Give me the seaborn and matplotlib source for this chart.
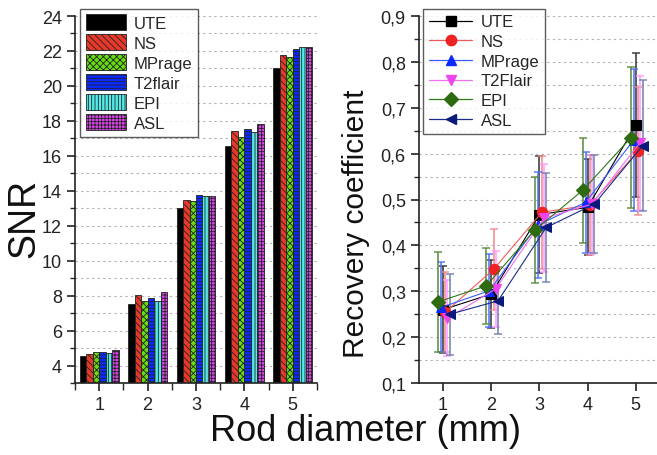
import numpy as np
import pandas as pd
import matplotlib
matplotlib.use("Agg")
import matplotlib.pyplot as plt
import matplotlib.patches as mpatches
from matplotlib.lines import Line2D
from matplotlib.ticker import MultipleLocator, FuncFormatter
import seaborn as sns

# ---------------- data ----------------
diameters = [1, 2, 3, 4, 5]
sequences = ["UTE", "NS", "MPrage", "T2flair", "EPI", "ASL"]

snr_ute = [4.53, 7.52, 13.04, 16.55, 21.00]
snr_ns = [4.67, 8.06, 13.50, 17.43, 21.77]
snr_mprage = [4.80, 7.72, 13.43, 17.06, 21.66]
snr_t2flair = [4.80, 7.85, 13.75, 17.52, 22.10]
snr_epi = [4.73, 7.72, 13.70, 17.35, 22.25]
snr_asl = [4.86, 8.21, 13.72, 17.81, 22.25]

rc_names = ["UTE", "NS", "MPrage", "T2Flair", "EPI", "ASL"]
rc_ute = [0.260, 0.294, 0.467, 0.483, 0.662]
rc_ns = [0.255, 0.348, 0.472, 0.488, 0.606]
rc_mprage = [0.265, 0.301, 0.444, 0.494, 0.630]
rc_t2flair = [0.241, 0.305, 0.459, 0.490, 0.624]
rc_epi = [0.277, 0.312, 0.433, 0.520, 0.635]
rc_asl = [0.250, 0.279, 0.439, 0.490, 0.617]

err_ute = [0.095, 0.074, 0.128, 0.105, 0.157]
err_ns = [0.087, 0.088, 0.123, 0.110, 0.140]
err_mprage = [0.098, 0.080, 0.116, 0.110, 0.154]
err_t2flair = [0.083, 0.083, 0.118, 0.108, 0.146]
err_epi = [0.109, 0.083, 0.116, 0.115, 0.154]
err_asl = [0.088, 0.073, 0.119, 0.107, 0.143]

# ---------------- styles ----------------
sns.set_theme(style="ticks")
plt.rcParams["font.family"] = ["Liberation Sans", "DejaVu Sans"]
plt.rcParams["hatch.linewidth"] = 0.6

bar_colors = ["#000000", "#e8382a", "#66dd11", "#0a2aff", "#55eaea", "#dd44ee"]
bar_hatches = ["", "\\\\\\\\\\", "xxxxx", "-----", "|||||", "+++++"]

line_colors = ["#000000", "#f05a5a", "#3a5cff", "#f070f0", "#2e7a16", "#1c2a8a"]
marker_colors = ["#000000", "#ee2222", "#0a28ff", "#ee44ee", "#2e6b10", "#0a1a7a"]
err_colors = ["#333333", "#f08a8a", "#5070ff", "#ff99ff", "#5a8a3a", "#7080b0"]
markers = ["s", "o", "^", "v", "D", "<"]
offsets = [0.0, 0.05, -0.04, 0.09, -0.10, 0.14]

W, H = 657, 456
fig = plt.figure(figsize=(W / 100, H / 100), dpi=100)

# ---------------- left: SNR bars ----------------
ax1 = fig.add_axes([75 / W, 1 - 384 / H, 242 / W, 367 / H])
snr_vals = [snr_ute, snr_ns, snr_mprage, snr_t2flair, snr_epi, snr_asl]
df = pd.DataFrame({
    "diameter": np.repeat([str(d) for d in diameters], len(sequences)),
    "sequence": sequences * len(diameters),
    "snr": [snr_vals[j][i] for i in range(len(diameters)) for j in range(len(sequences))],
})
sns.barplot(data=df, x="diameter", y="snr", hue="sequence", hue_order=sequences,
            palette=bar_colors, saturation=1, edgecolor="#222222", linewidth=0.6,
            width=0.8, ax=ax1, legend=False)
for cont, h in zip(ax1.containers, bar_hatches):
    for b in cont:
        b.set_hatch(h)

ax1.set_ylim(3, 24)
ax1.set_xlim(-0.5, 4.5)
ax1.yaxis.set_major_locator(MultipleLocator(2))
ax1.yaxis.set_minor_locator(MultipleLocator(1))
ax1.set_xticks(range(5))
ax1.set_xticklabels([str(d) for d in diameters])
ax1.xaxis.set_minor_locator(MultipleLocator(1, offset=0.5))
ax1.grid(axis="y", which="both", color="#b0b0b0", linestyle=(0, (2, 3)), linewidth=0.8)
ax1.set_axisbelow(True)
for s in ["top", "right"]:
    ax1.spines[s].set_visible(False)
for s in ["left", "bottom"]:
    ax1.spines[s].set_linewidth(1.2)
    ax1.spines[s].set_color("#222222")
ax1.tick_params(axis="both", which="major", direction="out", length=6, width=1.2,
                labelsize=13, colors="#222222")
ax1.tick_params(axis="y", which="minor", direction="out", length=3.5, width=1.0)
ax1.tick_params(axis="x", which="minor", direction="out", length=5, width=1.0)
ax1.set_xlabel("")
ax1.set_ylabel("SNR", fontsize=27, color="#111111")
ax1.yaxis.set_label_coords(-0.135, 0.45)

h1 = [mpatches.Patch(facecolor=c, edgecolor="#222222", hatch=h, linewidth=0.6, label=n)
      for c, h, n in zip(bar_colors, bar_hatches, sequences)]
leg1 = ax1.legend(handles=h1, loc="upper left", bbox_to_anchor=(0.02, 1.02),
                  fontsize=12, frameon=True, fancybox=False, edgecolor="#333333",
                  handlelength=2.4, handleheight=1.1, labelspacing=0.2,
                  borderpad=0.35, handletextpad=0.5, borderaxespad=0.0)
leg1.get_frame().set_linewidth(1.0)
leg1.set_zorder(5)

# ---------------- right: recovery coefficient ----------------
ax2 = fig.add_axes([419 / W, 1 - 384 / H, 238 / W, 367 / H])
rc_vals = [rc_ute, rc_ns, rc_mprage, rc_t2flair, rc_epi, rc_asl]
rc_errs = [err_ute, err_ns, err_mprage, err_t2flair, err_epi, err_asl]
x_base = np.array(diameters, dtype=float)
for i, name in enumerate(rc_names):
    xs = x_base + offsets[i]
    ax2.errorbar(xs, rc_vals[i], yerr=rc_errs[i], fmt="none", ecolor=err_colors[i],
                 elinewidth=1.3, capsize=3, capthick=1.2, alpha=0.85, zorder=2)
for i, name in enumerate(rc_names):
    xs = x_base + offsets[i]
    sns.lineplot(x=xs, y=rc_vals[i], ax=ax2, color=line_colors[i], linewidth=0.8,
                 marker=markers[i], markersize=7.5, markerfacecolor=marker_colors[i],
                 markeredgecolor=marker_colors[i], legend=False, zorder=3,
                 estimator=None, sort=False)

ax2.set_xlim(0.5, 5.44)
ax2.set_ylim(0.1, 0.9)
ax2.set_xticks(diameters)
ax2.yaxis.set_major_locator(MultipleLocator(0.1))
ax2.yaxis.set_minor_locator(MultipleLocator(0.05))
ax2.yaxis.set_major_formatter(FuncFormatter(lambda v, p: f"{v:.1f}".replace(".", ",")))
ax2.grid(axis="y", which="both", color="#b0b0b0", linestyle=(0, (2, 3)), linewidth=0.8)
ax2.set_axisbelow(True)
for s in ["top", "right"]:
    ax2.spines[s].set_visible(False)
for s in ["left", "bottom"]:
    ax2.spines[s].set_linewidth(1.2)
    ax2.spines[s].set_color("#222222")
ax2.tick_params(axis="both", which="major", direction="out", length=6, width=1.2,
                labelsize=13, colors="#222222")
ax2.tick_params(axis="y", which="minor", direction="out", length=3.5, width=1.0)
ax2.set_xlabel("")
ax2.set_ylabel("Recovery coefficient", fontsize=21.5, color="#111111")
ax2.yaxis.set_label_coords(-0.205, 0.436)

h2 = [Line2D([0], [0], color=line_colors[i], linewidth=0.9, marker=markers[i],
             markersize=7.5, markerfacecolor=marker_colors[i],
             markeredgecolor=marker_colors[i], label=rc_names[i])
      for i in range(len(rc_names))]
leg2 = ax2.legend(handles=h2, loc="upper left", bbox_to_anchor=(0.017, 1.02),
                  fontsize=12, frameon=True, fancybox=False, edgecolor="#333333",
                  handlelength=2.6, labelspacing=0.28, borderpad=0.35,
                  handletextpad=0.5, borderaxespad=0.0)
leg2.get_frame().set_linewidth(1.0)
leg2.set_zorder(5)

fig.text(365 / W, 1 - 432 / H, "Rod diameter (mm)", ha="center", va="center",
         fontsize=26, color="#111111")

fig.savefig("out.png", dpi=100)
